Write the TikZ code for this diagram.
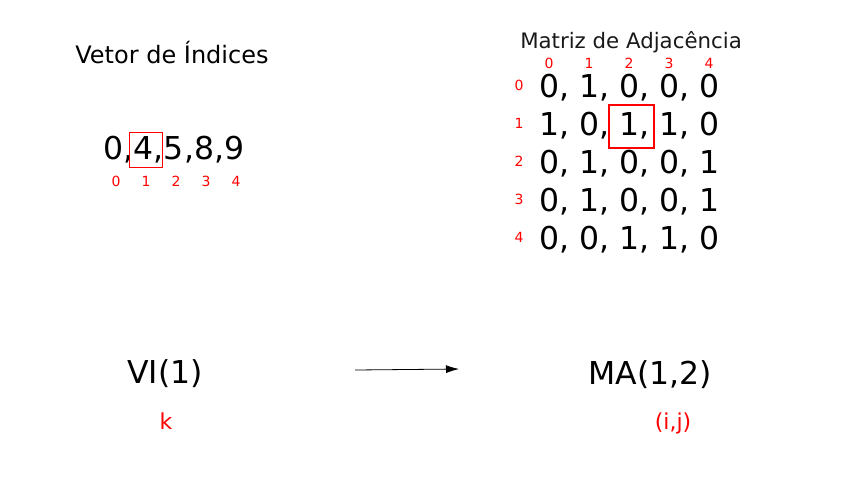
\documentclass[tikz,border=0pt]{standalone}
\usepackage{fontspec}
\setmainfont{DejaVu Sans}
\usepackage{xcolor}
\usetikzlibrary{arrows.meta}

\begin{document}
\begin{tikzpicture}[x=1pt,y=-1pt,>={Latex[length=13pt,width=8pt]},
  big/.style={font=\fontsize{31.5}{36}\selectfont,inner sep=0pt},
  idx/.style={red,font=\fontsize{14}{16}\selectfont,inner sep=0pt},
  title/.style={font=\fontsize{24}{28}\selectfont,inner sep=0pt},
  var/.style={red,font=\fontsize{22}{26}\selectfont,inner sep=0pt}]
\useasboundingbox (0,0) rectangle (853,480);
% vetor de indices
\node[title] (vtitle) at (172,53) {Vetor de Índices};
\node[big] (vetor) at (174,150) {0,4,5,8,9};
\draw[red,line width=0.8pt] (129,132) rectangle (162,167);
\foreach \i in {0,...,4}
  \node[idx] (vi\i) at (116+30*\i,181) {\i};
% matriz de adjacencia
\node[title,font=\fontsize{21.3}{25}\selectfont,text=black!90] (mtitle) at (631,42) {Matriz de Adjacência};
\foreach \i in {0,...,4}
  \node[idx] (mc\i) at (549+40*\i,63) {\i};
\foreach \r/\txt [count=\i from 0] in {0/{0, 1, 0, 0, 0},1/{1, 0, 1, 1, 0},2/{0, 1, 0, 0, 1},3/{0, 1, 0, 0, 1},4/{0, 0, 1, 1, 0}}{
  \node[idx] (mr\r) at (519,85+38*\i) {\r};
  \node[big,anchor=west] (row\r) at (539,88+37.8*\i) {\txt};
}
\draw[red,line width=1.5pt] (609,105) rectangle (654,148);
% acesso
\node[big] (vi) at (165,374) {VI(1)};
\node[var] (k) at (166,421) {k};
\node[big] (ma) at (650,375) {MA(1,2)};
\node[var] (ij) at (673,423) {(i,j)};
\coordinate (from) at (355,370);
\coordinate (to) at (459,369);
\draw[->,line width=0.8pt] (from) -- (to);
\end{tikzpicture}
\end{document}
